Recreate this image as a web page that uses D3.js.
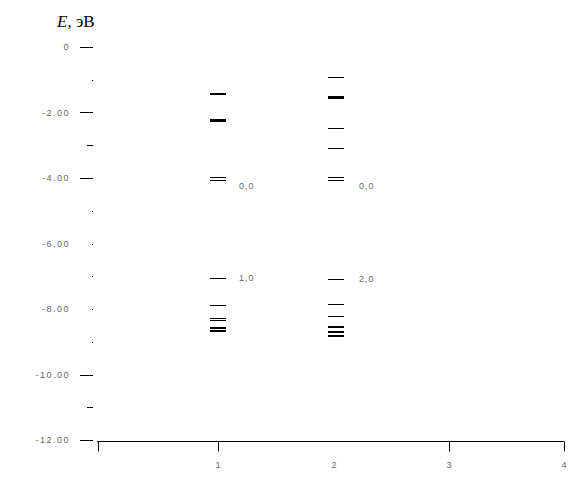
<!DOCTYPE html>
<html><head><meta charset="utf-8">
<script src="https://cdn.jsdelivr.net/npm/d3@7"></script>
<style>body{margin:0;background:#fff}svg{display:block}</style>
</head><body>
<svg id="c" width="584" height="494"></svg>
<script>
// ---- data ----
const categories = [1, 2];
const levels1 = [-1.43, -2.23, -3.98, -4.06, -7.06, -7.88, -8.27, -8.34, -8.59, -8.67];
const weights1 = [2, 3, 1, 1, 1, 1, 1, 1, 2, 2];
const levels2 = [-0.93, -1.53, -2.48, -3.07, -3.97, -4.07, -7.09, -7.85, -8.20, -8.54, -8.69, -8.82];
const weights2 = [1, 3, 1, 1, 1, 1, 1, 1, 1, 2, 2, 2];
const annotCat = [1, 2, 1, 2];
const annotE = [-4.02, -4.02, -7.06, -7.09];
const annotText = ["0,0", "0,0", "1,0", "2,0"];
const yTickValues = [0, -2, -4, -6, -8, -10, -12];
const yTickLabels = ["0", "-2.00", "-4.00", "-6.00", "-8.00", "-10.00", "-12.00"];
const yMinorValues = [-1, -3, -5, -7, -9, -11];
const xTickValues = [0, 1, 3, 4];
const xLabelValues = [1, 2, 3, 4];
const xLabels = ["1", "2", "3", "4"];
const yTitle = ["E", ", эВ"];

// ---- styles ----
const majorKind = ["line", "line", "line", "dot", "dot", "line", "line"];
const minorKind = ["dot", "dash", "dot", "dot", "dot", "dash"];

const svg = d3.select("#c");
const y = d3.scaleLinear().domain([0, -12]).range([47, 440]);
const x = d3.scaleLinear().domain([0, 1, 2, 3, 4]).range([98, 218, 334, 449, 564]);
const textCol = "#666";

// title
const t = svg.append("text").attr("x", 57).attr("y", 27)
  .attr("font-family", "'Liberation Serif', serif").attr("font-size", 17).attr("fill", "#000");
t.append("tspan").attr("font-style", "italic").text(yTitle[0]);
t.append("tspan").text(yTitle[1]);

// y ticks
const gy = svg.append("g");
yTickValues.forEach((v, i) => {
  const yy = Math.round(y(v)) + 0.5;
  if (majorKind[i] === "line") {
    gy.append("line").attr("x1", 80).attr("x2", 93).attr("y1", yy).attr("y2", yy).attr("stroke", "#000");
  } else {
    gy.append("rect").attr("x", 92).attr("y", yy - 0.5).attr("width", 1).attr("height", 1).attr("fill", "#000");
  }
  gy.append("text").attr("x", 70).attr("y", y(v)).attr("dy", "0.35em")
    .attr("text-anchor", "end").attr("font-family", "'Liberation Sans', Arial, sans-serif")
    .attr("font-size", 9).attr("letter-spacing", 1.5).attr("fill", textCol).text(yTickLabels[i]);
});
yMinorValues.forEach((v, i) => {
  const yy = Math.round(y(v)) + 0.5;
  if (minorKind[i] === "dash") {
    gy.append("line").attr("x1", 87).attr("x2", 93).attr("y1", yy).attr("y2", yy).attr("stroke", "#000");
  } else {
    gy.append("rect").attr("x", 92).attr("y", yy - 0.5).attr("width", 1).attr("height", 1).attr("fill", "#000");
  }
});

// x axis
const gx = svg.append("g");
const ax = 441.5;
gx.append("line").attr("x1", x(0) - 1).attr("x2", x(4)).attr("y1", ax).attr("y2", ax).attr("stroke", "#000");
xTickValues.forEach(v => {
  const xx = Math.round(x(v)) + 0.5;
  gx.append("line").attr("x1", xx).attr("x2", xx).attr("y1", ax).attr("y2", ax + 10).attr("stroke", "#000");
});
xLabelValues.forEach((v, i) => {
  gx.append("text").attr("x", x(v)).attr("y", 468).attr("text-anchor", "middle")
    .attr("font-family", "'Liberation Sans', Arial, sans-serif").attr("font-size", 9)
    .attr("fill", textCol).text(xLabels[i]);
});

// levels
const levelSets = [[levels1, weights1], [levels2, weights2]];
levelSets.forEach(([lv, w], ci) => {
  const cx = x(categories[ci]);
  svg.append("g").selectAll("line").data(lv).join("line")
    .attr("x1", cx - 8 + ci * 2).attr("x2", cx + 8 + ci * 2)
    .attr("y1", (d, i) => Math.round(y(d)) + (w[i] % 2 ? 0.5 : 0))
    .attr("y2", (d, i) => Math.round(y(d)) + (w[i] % 2 ? 0.5 : 0))
    .attr("stroke", "#000").attr("stroke-width", (d, i) => w[i]);
});

// annotations
annotText.forEach((s, i) => {
  svg.append("text").attr("x", x(annotCat[i]) + 21 + (annotCat[i] - 1) * 4)
    .attr("y", y(annotE[i]) + (i < 2 ? 7 : 0)).attr("dy", "0.35em")
    .attr("font-family", "'Liberation Sans', Arial, sans-serif").attr("font-size", 9)
    .attr("letter-spacing", 1).attr("fill", textCol).text(s);
});
</script>
</body></html>
